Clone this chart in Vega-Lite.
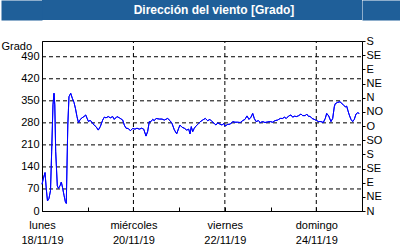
{
  "$schema": "https://vega.github.io/schema/vega-lite/v6.json",
  "padding": {"left": 0, "top": 0, "right": 19, "bottom": 0},
  "background": "white",
  "spacing": 14,
  "config": {
    "font": "Liberation Sans",
    "view": {"stroke": null},
    "axis": {"labelFont": "Liberation Sans", "labelFontSize": 11, "labelColor": "black", "domainColor": "black", "tickColor": "black", "titleColor": "black", "titleFont": "Liberation Sans"}
  },
  "datasets": {
    "wind": [
      {"t": "2019-11-18T00:00", "v": 85},
      {"t": "2019-11-18T00:47", "v": 105},
      {"t": "2019-11-18T01:35", "v": 122},
      {"t": "2019-11-18T02:15", "v": 70},
      {"t": "2019-11-18T02:53", "v": 32},
      {"t": "2019-11-18T03:40", "v": 40},
      {"t": "2019-11-18T04:28", "v": 65},
      {"t": "2019-11-18T05:05", "v": 190},
      {"t": "2019-11-18T05:46", "v": 337},
      {"t": "2019-11-18T06:18", "v": 374},
      {"t": "2019-11-18T06:43", "v": 337},
      {"t": "2019-11-18T07:11", "v": 190},
      {"t": "2019-11-18T08:02", "v": 80},
      {"t": "2019-11-18T08:40", "v": 72},
      {"t": "2019-11-18T09:27", "v": 80},
      {"t": "2019-11-18T10:08", "v": 92},
      {"t": "2019-11-18T10:46", "v": 75},
      {"t": "2019-11-18T11:33", "v": 50},
      {"t": "2019-11-18T12:14", "v": 30},
      {"t": "2019-11-18T12:45", "v": 24},
      {"t": "2019-11-18T13:07", "v": 140},
      {"t": "2019-11-18T13:33", "v": 273},
      {"t": "2019-11-18T14:10", "v": 363},
      {"t": "2019-11-18T15:04", "v": 374},
      {"t": "2019-11-18T15:55", "v": 358},
      {"t": "2019-11-18T16:48", "v": 345},
      {"t": "2019-11-18T17:35", "v": 325},
      {"t": "2019-11-18T18:22", "v": 300},
      {"t": "2019-11-18T19:10", "v": 280},
      {"t": "2019-11-18T19:57", "v": 290},
      {"t": "2019-11-18T21:00", "v": 296},
      {"t": "2019-11-18T22:03", "v": 300},
      {"t": "2019-11-18T22:57", "v": 305},
      {"t": "2019-11-18T23:37", "v": 295},
      {"t": "2019-11-19T00:25", "v": 284},
      {"t": "2019-11-19T01:12", "v": 288},
      {"t": "2019-11-19T02:15", "v": 282},
      {"t": "2019-11-19T03:18", "v": 273},
      {"t": "2019-11-19T04:21", "v": 268},
      {"t": "2019-11-19T05:33", "v": 257},
      {"t": "2019-11-19T06:36", "v": 268},
      {"t": "2019-11-19T07:52", "v": 289},
      {"t": "2019-11-19T08:42", "v": 298},
      {"t": "2019-11-19T09:36", "v": 296},
      {"t": "2019-11-19T10:48", "v": 300},
      {"t": "2019-11-19T11:51", "v": 296},
      {"t": "2019-11-19T13:07", "v": 300},
      {"t": "2019-11-19T13:57", "v": 291},
      {"t": "2019-11-19T15:22", "v": 300},
      {"t": "2019-11-19T16:35", "v": 296},
      {"t": "2019-11-19T18:22", "v": 289},
      {"t": "2019-11-19T19:12", "v": 273},
      {"t": "2019-11-19T20:06", "v": 263},
      {"t": "2019-11-19T21:18", "v": 262},
      {"t": "2019-11-19T22:21", "v": 255},
      {"t": "2019-11-19T23:37", "v": 262},
      {"t": "2019-11-20T00:49", "v": 260},
      {"t": "2019-11-20T01:52", "v": 263},
      {"t": "2019-11-20T03:05", "v": 260},
      {"t": "2019-11-20T04:20", "v": 263},
      {"t": "2019-11-20T05:23", "v": 260},
      {"t": "2019-11-20T06:36", "v": 238},
      {"t": "2019-11-20T07:29", "v": 253},
      {"t": "2019-11-20T08:20", "v": 284},
      {"t": "2019-11-20T09:13", "v": 284},
      {"t": "2019-11-20T10:07", "v": 291},
      {"t": "2019-11-20T10:57", "v": 287},
      {"t": "2019-11-20T11:51", "v": 294},
      {"t": "2019-11-20T13:35", "v": 292},
      {"t": "2019-11-20T15:00", "v": 292},
      {"t": "2019-11-20T16:13", "v": 289},
      {"t": "2019-11-20T17:59", "v": 294},
      {"t": "2019-11-20T19:12", "v": 287},
      {"t": "2019-11-20T20:15", "v": 278},
      {"t": "2019-11-20T21:27", "v": 258},
      {"t": "2019-11-20T22:43", "v": 245},
      {"t": "2019-11-20T23:46", "v": 263},
      {"t": "2019-11-21T00:27", "v": 273},
      {"t": "2019-11-21T01:30", "v": 266},
      {"t": "2019-11-21T02:42", "v": 263},
      {"t": "2019-11-21T03:58", "v": 257},
      {"t": "2019-11-21T05:01", "v": 260},
      {"t": "2019-11-21T05:42", "v": 245},
      {"t": "2019-11-21T06:23", "v": 268},
      {"t": "2019-11-21T07:07", "v": 252},
      {"t": "2019-11-21T07:57", "v": 263},
      {"t": "2019-11-21T08:51", "v": 270},
      {"t": "2019-11-21T10:16", "v": 278},
      {"t": "2019-11-21T10:57", "v": 283},
      {"t": "2019-11-21T12:22", "v": 289},
      {"t": "2019-11-21T13:44", "v": 294},
      {"t": "2019-11-21T14:59", "v": 287},
      {"t": "2019-11-21T16:12", "v": 291},
      {"t": "2019-11-21T17:15", "v": 284},
      {"t": "2019-11-21T18:27", "v": 278},
      {"t": "2019-11-21T19:21", "v": 273},
      {"t": "2019-11-21T20:14", "v": 280},
      {"t": "2019-11-21T21:27", "v": 276},
      {"t": "2019-11-21T22:30", "v": 273},
      {"t": "2019-11-21T23:23", "v": 278},
      {"t": "2019-11-22T00:04", "v": 270},
      {"t": "2019-11-22T01:29", "v": 275},
      {"t": "2019-11-22T02:51", "v": 276},
      {"t": "2019-11-22T04:07", "v": 284},
      {"t": "2019-11-22T05:19", "v": 282},
      {"t": "2019-11-22T06:44", "v": 282},
      {"t": "2019-11-22T08:06", "v": 281},
      {"t": "2019-11-22T09:22", "v": 287},
      {"t": "2019-11-22T10:34", "v": 291},
      {"t": "2019-11-22T11:37", "v": 302},
      {"t": "2019-11-22T12:40", "v": 291},
      {"t": "2019-11-22T13:43", "v": 298},
      {"t": "2019-11-22T14:37", "v": 310},
      {"t": "2019-11-22T15:27", "v": 294},
      {"t": "2019-11-22T16:21", "v": 284},
      {"t": "2019-11-22T17:33", "v": 287},
      {"t": "2019-11-22T18:36", "v": 281},
      {"t": "2019-11-22T19:52", "v": 284},
      {"t": "2019-11-22T21:04", "v": 281},
      {"t": "2019-11-22T22:29", "v": 283},
      {"t": "2019-11-22T23:51", "v": 284},
      {"t": "2019-11-23T01:07", "v": 282},
      {"t": "2019-11-23T02:19", "v": 287},
      {"t": "2019-11-23T03:44", "v": 289},
      {"t": "2019-11-23T05:06", "v": 294},
      {"t": "2019-11-23T06:22", "v": 294},
      {"t": "2019-11-23T07:12", "v": 298},
      {"t": "2019-11-23T08:15", "v": 294},
      {"t": "2019-11-23T09:31", "v": 302},
      {"t": "2019-11-23T10:43", "v": 305},
      {"t": "2019-11-23T11:37", "v": 298},
      {"t": "2019-11-23T12:27", "v": 301},
      {"t": "2019-11-23T13:43", "v": 300},
      {"t": "2019-11-23T14:46", "v": 303},
      {"t": "2019-11-23T15:58", "v": 308},
      {"t": "2019-11-23T16:52", "v": 303},
      {"t": "2019-11-23T18:13", "v": 303},
      {"t": "2019-11-23T18:58", "v": 308},
      {"t": "2019-11-23T20:01", "v": 300},
      {"t": "2019-11-23T20:42", "v": 301},
      {"t": "2019-11-23T21:45", "v": 294},
      {"t": "2019-11-23T22:57", "v": 291},
      {"t": "2019-11-24T00:13", "v": 287},
      {"t": "2019-11-24T01:16", "v": 284},
      {"t": "2019-11-24T02:28", "v": 284},
      {"t": "2019-11-24T03:40", "v": 281},
      {"t": "2019-11-24T04:43", "v": 294},
      {"t": "2019-11-24T05:28", "v": 310},
      {"t": "2019-11-24T06:31", "v": 302},
      {"t": "2019-11-24T07:43", "v": 284},
      {"t": "2019-11-24T08:37", "v": 294},
      {"t": "2019-11-24T09:27", "v": 331},
      {"t": "2019-11-24T09:58", "v": 341},
      {"t": "2019-11-24T11:14", "v": 345},
      {"t": "2019-11-24T12:27", "v": 347},
      {"t": "2019-11-24T13:30", "v": 341},
      {"t": "2019-11-24T14:23", "v": 336},
      {"t": "2019-11-24T15:13", "v": 331},
      {"t": "2019-11-24T15:58", "v": 333},
      {"t": "2019-11-24T16:39", "v": 318},
      {"t": "2019-11-24T17:19", "v": 305},
      {"t": "2019-11-24T18:13", "v": 291},
      {"t": "2019-11-24T19:07", "v": 284},
      {"t": "2019-11-24T19:57", "v": 291},
      {"t": "2019-11-24T20:51", "v": 308},
      {"t": "2019-11-24T21:44", "v": 312},
      {"t": "2019-11-24T22:34", "v": 310}
    ],
    "hgrid": [{"g": 70}, {"g": 140}, {"g": 210}, {"g": 280}, {"g": 350}, {"g": 420}, {"g": 490}],
    "vgrid": [{"d": "2019-11-20T00:00"}, {"d": "2019-11-22T00:00"}, {"d": "2019-11-24T00:00"}]
  },
  "vconcat": [
    {
      "width": 320,
      "height": 20,
      "view": {"fill": "#1F5F99", "stroke": null},
      "data": {"values": [{"title": "Dirección del viento [Grado]"}]},
      "layer": [
        {
          "mark": {"type": "text", "color": "white", "font": "Liberation Sans", "fontWeight": "bold", "fontSize": 12, "dx": 12, "baseline": "middle", "align": "center"},
          "encoding": {
            "text": {"field": "title"},
            "y": {
              "datum": 0,
              "type": "quantitative",
              "scale": {"domain": [-1, 1]},
              "axis": {"orient": "left", "domain": true, "domainColor": "#1F5F99", "domainWidth": 41, "offset": 20.5, "labels": false, "ticks": false, "grid": false, "title": null}
            }
          }
        },
        {
          "mark": {"type": "point", "opacity": 0},
          "encoding": {
            "y": {
              "datum": 0,
              "type": "quantitative",
              "axis": {"orient": "right", "domain": true, "domainColor": "#1F5F99", "domainWidth": 41, "offset": 20.5, "labels": false, "ticks": false, "grid": false, "title": null}
            }
          }
        }
      ],
      "resolve": {"axis": {"y": "independent"}}
    },
    {
      "width": 320,
      "height": 170,
      "view": {"stroke": "black", "strokeWidth": 1},
      "layer": [
        {
          "data": {"name": "hgrid"},
          "mark": {"type": "rule", "color": "black", "strokeWidth": 1, "strokeDash": [4, 3]},
          "encoding": {
            "y": {"field": "g", "type": "quantitative", "axis": null},
            "x": {"datum": {"year": 2019, "month": 11, "date": 18}, "type": "temporal"},
            "x2": {"datum": {"year": 2019, "month": 11, "date": 25}}
          }
        },
        {
          "data": {"name": "vgrid"},
          "mark": {"type": "rule", "color": "black", "strokeWidth": 1, "strokeDash": [4, 3]},
          "encoding": {
            "x": {"field": "d", "type": "temporal"},
            "y": {"datum": 0, "type": "quantitative", "axis": null},
            "y2": {"datum": 540}
          }
        },
        {
          "data": {"name": "wind"},
          "mark": {"type": "line", "color": "#0000FF", "strokeWidth": 1},
          "encoding": {
            "x": {
              "field": "t",
              "type": "temporal",
              "scale": {"domain": [{"year": 2019, "month": 11, "date": 18}, {"year": 2019, "month": 11, "date": 25}]},
              "axis": {
                "title": null,
                "values": [
                  {"year": 2019, "month": 11, "date": 18},
                  {"year": 2019, "month": 11, "date": 19},
                  {"year": 2019, "month": 11, "date": 20},
                  {"year": 2019, "month": 11, "date": 21},
                  {"year": 2019, "month": 11, "date": 22},
                  {"year": 2019, "month": 11, "date": 23},
                  {"year": 2019, "month": 11, "date": 24},
                  {"year": 2019, "month": 11, "date": 25}
                ],
                "labelExpr": "(date(datum.value) % 2 == 0 && date(datum.value) < 25) ? [['domingo','lunes','martes','miércoles','jueves','viernes','sábado'][day(datum.value)], timeFormat(datum.value, '%d/%m/%y')] : ''",
                "grid": false,
                "tickSize": -4,
                "labelPadding": 12,
                "labelLineHeight": 15,
                "labelFlush": false,
                "labelOverlap": false
              }
            },
            "y": {
              "field": "v",
              "type": "quantitative",
              "scale": {"domain": [0, 540], "nice": false, "zero": false},
              "axis": {
                "orient": "left",
                "values": [0, 70, 140, 210, 280, 350, 420, 490],
                "grid": false,
                "ticks": false,
                "labelPadding": 3,
                "title": "   Grado",
                "titleAngle": 0,
                "titleAlign": "left",
                "titleBaseline": "middle",
                "titleX": -41,
                "titleY": 5,
                "titleFontSize": 11,
                "titleFontWeight": "normal",
                "labelFlush": false,
                "labelOverlap": false
              }
            }
          }
        },
        {
          "data": {"name": "wind"},
          "mark": {"type": "line", "color": "#0000FF", "strokeWidth": 1},
          "encoding": {
            "x": {"field": "t", "type": "temporal"},
            "y": {
              "field": "v",
              "type": "quantitative",
              "axis": {
                "orient": "right",
                "values": [0, 45, 90, 135, 180, 225, 270, 315, 360, 405, 450, 495, 540],
                "labelExpr": "['N','NE','E','SE','S','SO','O','NO'][round(datum.value / 45) % 8]",
                "grid": false,
                "ticks": true,
                "tickSize": 3,
                "labelPadding": 1,
                "title": null,
                "labelFlush": false,
                "labelOverlap": false
              }
            }
          }
        }
      ],
      "resolve": {"axis": {"y": "independent"}}
    }
  ]
}
